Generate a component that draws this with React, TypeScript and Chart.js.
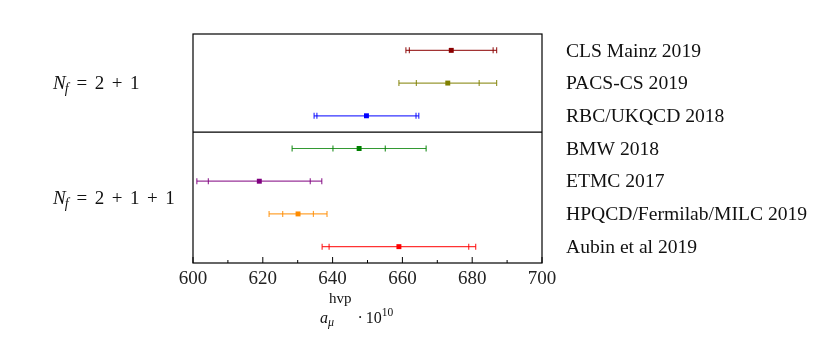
import React, { useEffect, useRef } from 'react';
import { Chart, registerables } from 'chart.js';
Chart.register(...registerables);

const studies = [
  'CLS Mainz 2019',
  'PACS-CS 2019',
  'RBC/UKQCD 2018',
  'BMW 2018',
  'ETMC 2017',
  'HPQCD/Fermilab/MILC 2019',
  'Aubin et al 2019',
];
const centers = [674, 673, 649.7, 647.6, 619.0, 630.1, 659];
const innerErr = [12, 9, 14.2, 7.5, 14.6, 4.4, 20];
const outerErr = [13, 14, 15.0, 19.2, 17.9, 8.3, 22];
const colors = ['#8b0000', '#808000', '#0000ff', '#008000', '#800080', '#ff8c00', '#ff0000'];

const xMajorTicks = [600, 620, 640, 660, 680, 700];
const xMinorTicks = [610, 630, 650, 670, 690];
const groupNf = [['2', '+', '1'], ['2', '+', '1', '+', '1']];
const groupFirstRow = [0, 3];
const groupLastRow = [2, 6];

const SERIF = '"Liberation Serif", "DejaVu Serif", serif';

function withAlpha(hex: string, a: number) {
  const r = parseInt(hex.slice(1, 3), 16);
  const g = parseInt(hex.slice(3, 5), 16);
  const b = parseInt(hex.slice(5, 7), 16);
  return `rgba(${r},${g},${b},${a})`;
}

export default function App() {
  const ref = useRef<HTMLCanvasElement>(null);
  useEffect(() => {
    document.body.style.margin = '0';
    const canvas = ref.current!;

    const errorBars = {
      id: 'errorBars',
      beforeDatasetsDraw(chart: any) {
        const ctx = chart.ctx;
        const xs = chart.scales.x;
        const ys = chart.scales.y;
        ctx.save();
        centers.forEach((c, i) => {
          const y = ys.getPixelForValue(i);
          const col = withAlpha(colors[i], 0.8);
          ctx.strokeStyle = col;
          ctx.lineWidth = 1.2;
          ctx.beginPath();
          ctx.moveTo(xs.getPixelForValue(c - outerErr[i]), y);
          ctx.lineTo(xs.getPixelForValue(c + outerErr[i]), y);
          ctx.stroke();
          [c - outerErr[i], c - innerErr[i], c + innerErr[i], c + outerErr[i]].forEach((v) => {
            const px = xs.getPixelForValue(v);
            ctx.beginPath();
            ctx.moveTo(px, y - 3);
            ctx.lineTo(px, y + 3);
            ctx.stroke();
          });
        });
        ctx.restore();
      },
    };

    const frame = {
      id: 'frame',
      afterDraw(chart: any) {
        const ctx = chart.ctx;
        const a = chart.chartArea;
        const xs = chart.scales.x;
        const ys = chart.scales.y;
        ctx.save();
        ctx.strokeStyle = '#000';
        ctx.lineWidth = 1.2;
        ctx.strokeRect(a.left, a.top, a.right - a.left, a.bottom - a.top);
        for (let g = 0; g < groupLastRow.length - 1; g++) {
          const y = ys.getPixelForValue(groupLastRow[g] + 0.5);
          ctx.beginPath();
          ctx.moveTo(a.left, y);
          ctx.lineTo(a.right, y);
          ctx.stroke();
        }
        ctx.lineWidth = 1;
        xMajorTicks.forEach((v) => {
          const px = xs.getPixelForValue(v);
          ctx.beginPath();
          ctx.moveTo(px, a.bottom);
          ctx.lineTo(px, a.bottom - 6);
          ctx.stroke();
        });
        xMinorTicks.forEach((v) => {
          const px = xs.getPixelForValue(v);
          ctx.beginPath();
          ctx.moveTo(px, a.bottom);
          ctx.lineTo(px, a.bottom - 3);
          ctx.stroke();
        });
        // right labels
        ctx.fillStyle = '#111';
        ctx.textBaseline = 'middle';
        ctx.textAlign = 'left';
        ctx.font = `19.6px ${SERIF}`;
        studies.forEach((s, i) => {
          ctx.fillText(s, a.right + 24, ys.getPixelForValue(i) + 1);
        });
        // group labels
        ctx.textBaseline = 'alphabetic';
        groupNf.forEach((tokens, g) => {
          const y = (ys.getPixelForValue(groupFirstRow[g]) + ys.getPixelForValue(groupLastRow[g])) / 2 + 6;
          let x = 53;
          ctx.font = `italic 19px ${SERIF}`;
          ctx.fillText('N', x, y);
          x += ctx.measureText('N').width - 1;
          ctx.font = `italic 14px ${SERIF}`;
          ctx.fillText('f', x, y + 4);
          x += ctx.measureText('f').width + 8;
          ctx.font = `19px ${SERIF}`;
          ctx.fillText('=', x, y);
          x += ctx.measureText('=').width + 7.5;
          tokens.forEach((t) => {
            ctx.fillText(t, x, y);
            x += ctx.measureText(t).width + 7.5;
          });
        });
        // x title
        let x = 320;
        const by = 323;
        ctx.font = `italic 16px ${SERIF}`;
        ctx.fillText('a', x, by);
        x += ctx.measureText('a').width;
        ctx.font = `italic 12px ${SERIF}`;
        ctx.fillText('μ', x, by + 3);
        ctx.font = `15px ${SERIF}`;
        ctx.fillText('hvp', x + 1, 303);
        x += ctx.measureText('hvp').width + 7;
        ctx.font = `16px ${SERIF}`;
        ctx.fillText('·', x, by);
        x += ctx.measureText('·').width + 3;
        ctx.fillText('10', x, by);
        x += ctx.measureText('10').width;
        ctx.font = `11.5px ${SERIF}`;
        ctx.fillText('10', x, 316);
        ctx.restore();
      },
    };

    const chart = new Chart(canvas, {
      type: 'scatter',
      data: {
        datasets: [
          {
            data: centers.map((c, i) => ({ x: c, y: i })),
            pointStyle: 'rect',
            pointRadius: 3.5,
            pointHoverRadius: 3.5,
            pointBackgroundColor: colors,
            pointBorderColor: colors,
            pointBorderWidth: 0,
          },
        ],
      },
      options: {
        responsive: false,
        maintainAspectRatio: false,
        animation: false,
        events: [],
        layout: { padding: { left: 193, top: 34, right: 288, bottom: 0 } },
        plugins: { legend: { display: false }, tooltip: { enabled: false } },
        scales: {
          x: {
            type: 'linear',
            min: 600,
            max: 700,
            grid: { display: false },
            border: { display: false },
            afterBuildTicks: (s: any) => {
              s.ticks = xMajorTicks.map((v) => ({ value: v }));
            },
            afterFit: (s: any) => {
              s.height = 74;
            },
            ticks: {
              color: '#222',
              padding: -3,
              font: { family: SERIF, size: 19 },
            },
          },
          y: {
            type: 'linear',
            min: -0.5,
            max: 6.5,
            reverse: true,
            display: false,
          },
        },
      },
      plugins: [errorBars, frame],
    } as any);
    return () => chart.destroy();
  }, []);
  return <canvas ref={ref} width={830} height={337} style={{ display: 'block' }} />;
}
